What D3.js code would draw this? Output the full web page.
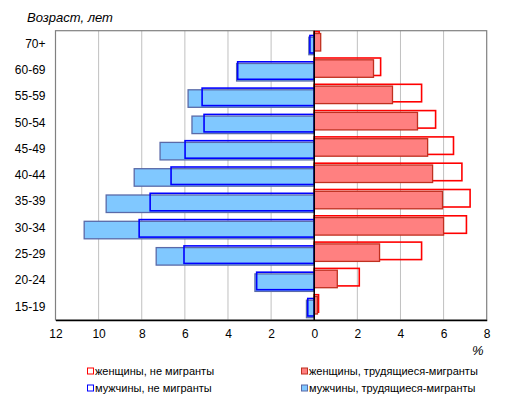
<!DOCTYPE html>
<html><head><meta charset="utf-8">
<script src="https://cdn.jsdelivr.net/npm/d3@7"></script>
<style>body{margin:0;background:#fff}svg{display:block;font-family:"Liberation Sans",Arial,sans-serif}</style>
</head><body><svg id="c" width="509" height="399"></svg>
<script>
const ageGroups = ["70+","60-69","55-59","50-54","45-49","40-44","35-39","30-34","25-29","20-24","15-19"];
const menMigrants =      [0.25,3.6,5.85,5.67,7.15,8.35,9.65,10.67,7.33,2.75,0.36];
const menNonMigrants =   [0.2,3.55,5.2,5.11,5.99,6.64,7.61,8.12,6.04,2.67,0.3];
const womenMigrants =    [0.3,2.75,3.63,4.79,5.26,5.49,5.95,6.0,3.03,1.07,0.15];
const womenNonMigrants = [0.23,3.08,4.98,5.63,6.46,6.85,7.23,7.06,4.98,2.09,0.2];
const xTicks = [-12,-10,-8,-6,-4,-2,0,2,4,6,8];
const legendLabels = ["женщины, не мигранты","женщины, трудящиеся-мигранты","мужчины, не мигранты","мужчины, трудящиеся-мигранты"];

const svg = d3.select("#c");
const L=55.5, R=486.7, T=30.7, B=320;
const x = d3.scaleLinear().domain([-12,8]).range([L,R]);
const y = d3.scaleBand().domain(ageGroups).range([T,B]).paddingInner(0);
const bh = 17.5;

// gridlines
svg.append("g").selectAll("line").data(xTicks.filter(t=>t!==0 && t!==-12 && t!==8)).join("line")
  .attr("x1",d=>x(d)).attr("x2",d=>x(d)).attr("y1",T).attr("y2",B)
  .attr("stroke","#c0c0c0").attr("stroke-width",1);
// border
svg.append("rect").attr("x",L).attr("y",T).attr("width",R-L).attr("height",B-T)
  .attr("fill","none").attr("stroke","#808080").attr("stroke-width",1.2);

const series = [
  {vals:womenNonMigrants, sign:1, off:1.0, fill:"none", stroke:"#ff0000", sw:1.6},
  {vals:womenMigrants, sign:1, off:2.8, fill:"#ff8080", stroke:"#c03020", sw:1.3},
  {vals:menMigrants, sign:-1, off:6.5, fill:"#80c8ff", stroke:"#5a6aa8", sw:1.3},
  {vals:menNonMigrants, sign:-1, off:4.8, fill:"none", stroke:"#0000ff", sw:1.6}
];
series.forEach(s=>{
  svg.append("g").selectAll("rect").data(ageGroups).join("rect")
    .attr("x",(d,i)=>Math.min(x(0),x(s.sign*s.vals[i])))
    .attr("width",(d,i)=>Math.abs(x(s.sign*s.vals[i])-x(0)))
    .attr("y",d=>y(d)+s.off).attr("height",bh)
    .attr("fill",s.fill).attr("stroke",s.stroke).attr("stroke-width",s.sw);
});

// zero line
svg.append("line").attr("x1",x(0)).attr("x2",x(0)).attr("y1",T).attr("y2",B).attr("stroke","#000").attr("stroke-width",1.5);
// bottom axis
const xa = d3.axisBottom(x).tickValues(xTicks).tickFormat(d=>Math.abs(d)).tickSize(0).tickPadding(9);
const gx = svg.append("g").attr("transform",`translate(0,${B})`).call(xa);
gx.select(".domain").attr("stroke","#000").attr("stroke-width",1.6);
gx.selectAll("text").attr("font-size",12).attr("fill","#000").attr("font-family","Liberation Sans, Arial, sans-serif");
// y axis labels
const ya = d3.axisLeft(y).tickSize(0).tickPadding(10);
const gy = svg.append("g").attr("transform",`translate(${L},0)`).call(ya);
gy.select(".domain").remove();
gy.selectAll("text").attr("font-size",12).attr("fill","#000").attr("font-family","Liberation Sans, Arial, sans-serif");

svg.append("text").attr("x",27).attr("y",22).attr("font-size",13).attr("font-style","italic").text("Возраст, лет");
svg.append("text").attr("x",472).attr("y",355).attr("font-size",13).attr("font-style","italic").text("%");

// legend
const leg = [
  {lbl:legendLabels[0], x:87, y:371, fill:"#fff", stroke:"#ff0000"},
  {lbl:legendLabels[1], x:301, y:371, fill:"#ff8080", stroke:"#c03020"},
  {lbl:legendLabels[2], x:87, y:388, fill:"#fff", stroke:"#0000ff"},
  {lbl:legendLabels[3], x:301, y:388, fill:"#80c8ff", stroke:"#5a6aa8"}
];
const lg = svg.append("g").selectAll("g").data(leg).join("g").attr("transform",d=>`translate(${d.x},${d.y})`);
lg.append("rect").attr("x",0.5).attr("y",-3).attr("width",6).attr("height",6).attr("fill",d=>d.fill).attr("stroke",d=>d.stroke).attr("stroke-width",1);
lg.append("text").attr("x",8).attr("y",4).attr("font-size",11).text(d=>d.lbl);
</script></body></html>
